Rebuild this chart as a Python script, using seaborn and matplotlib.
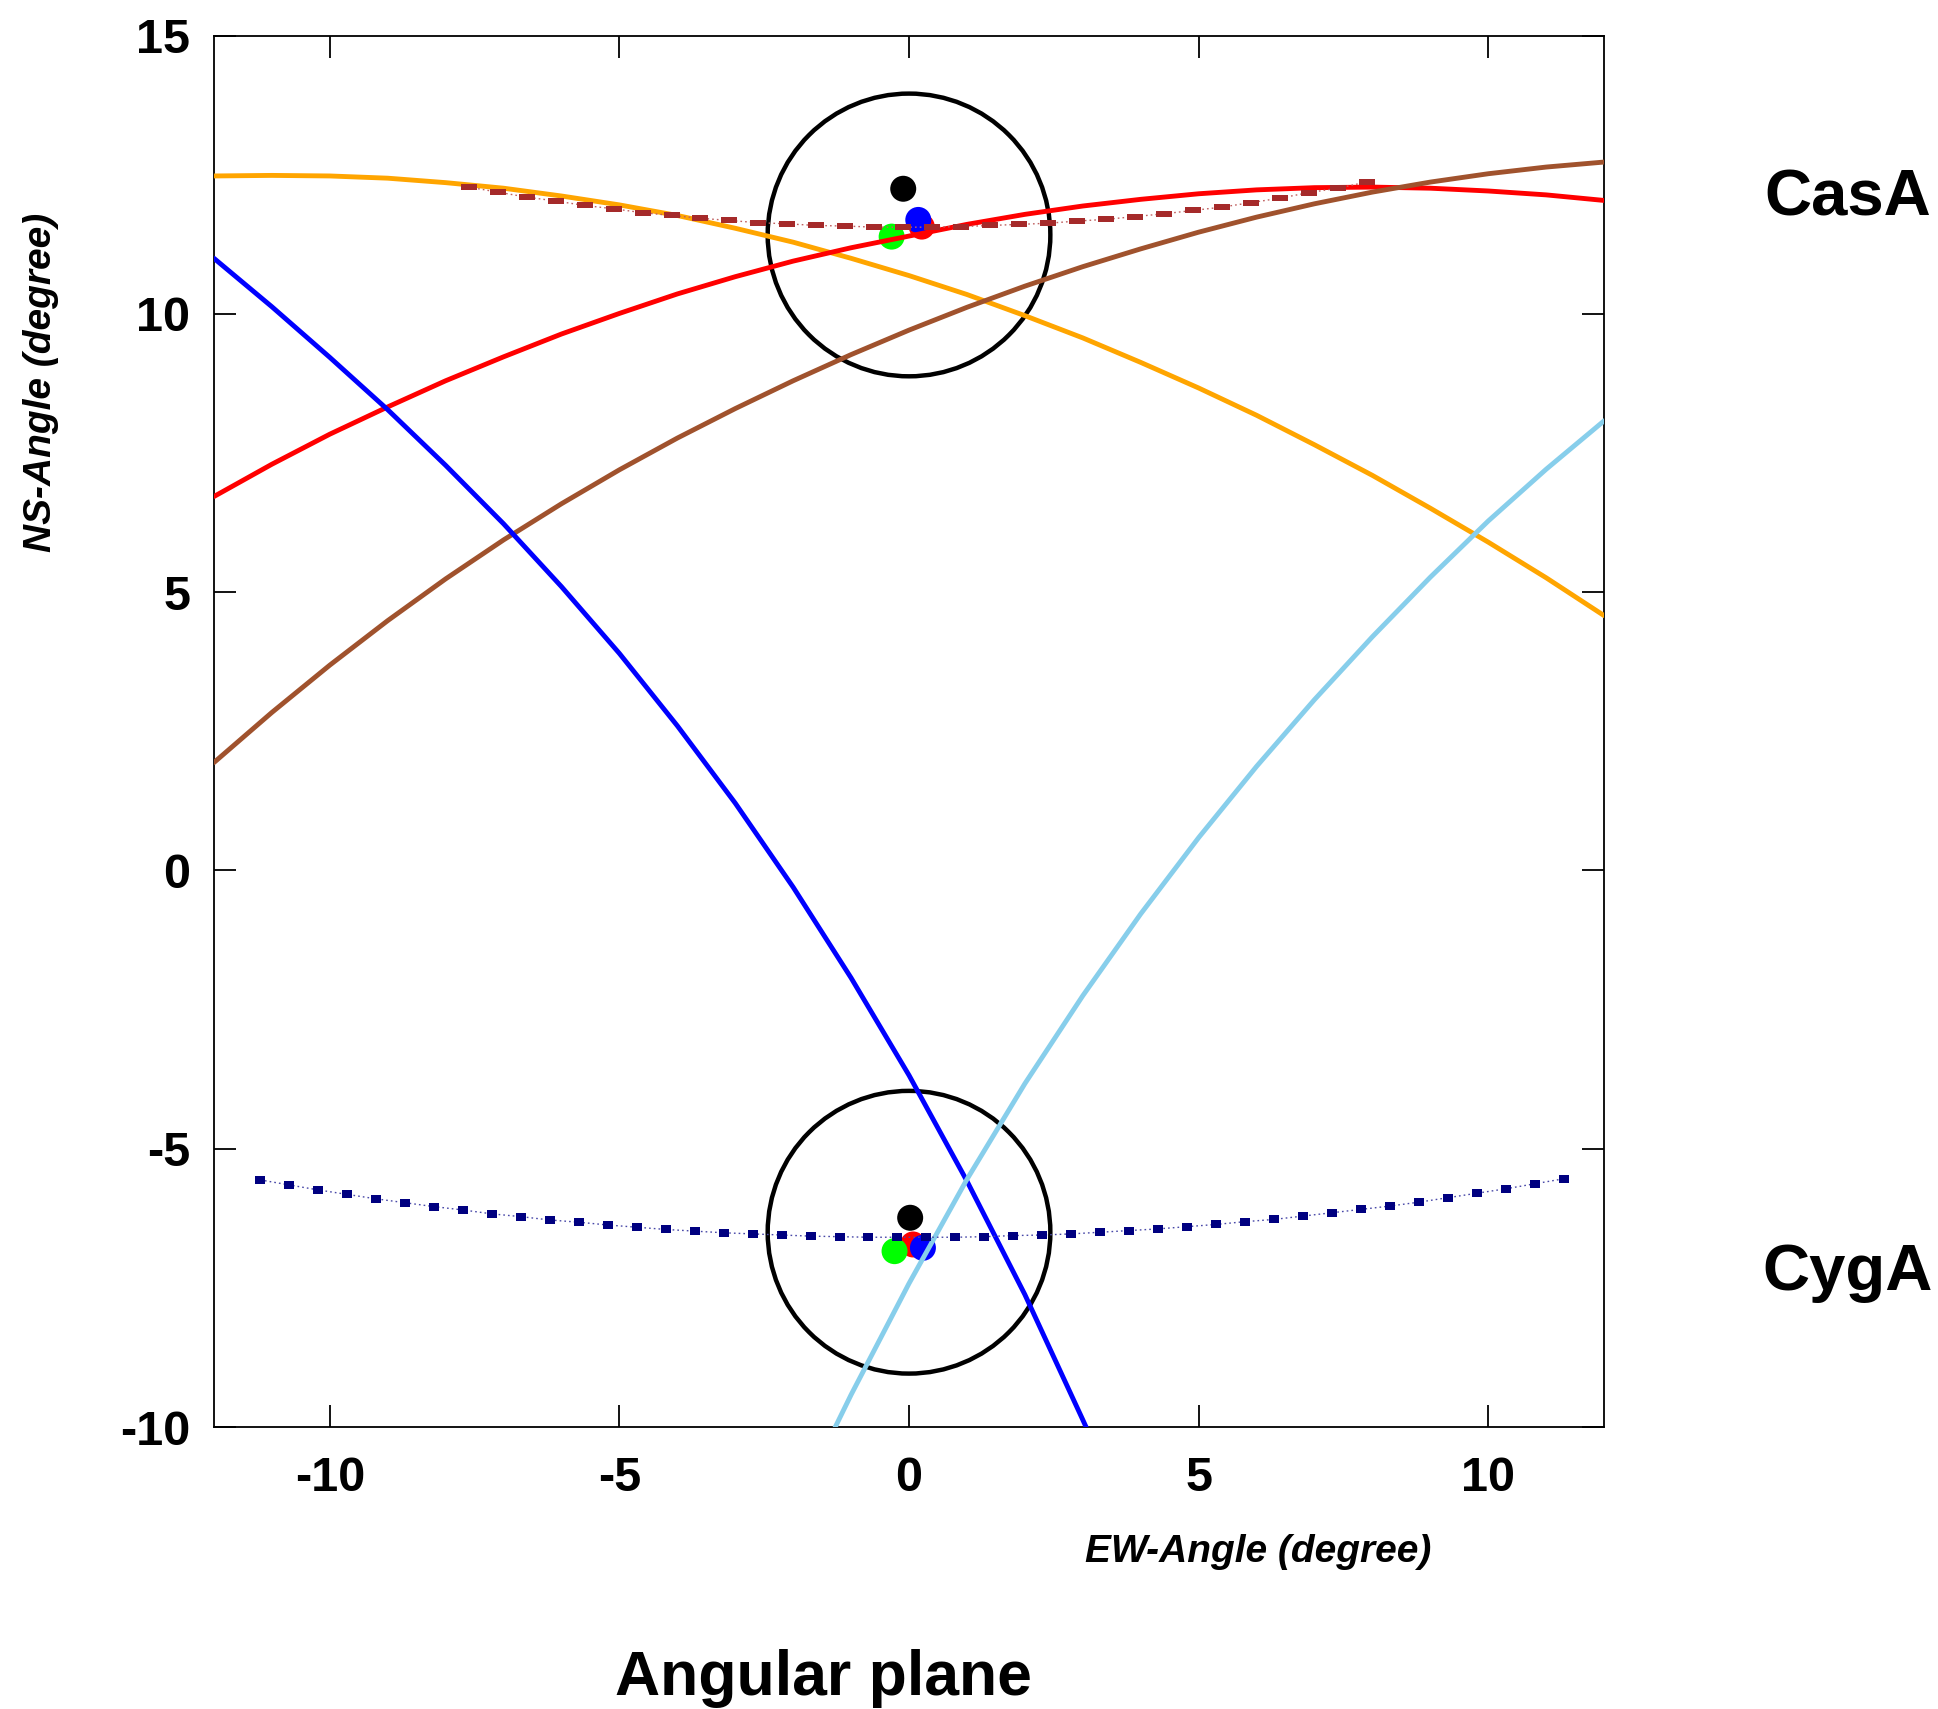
import matplotlib
matplotlib.use("Agg")
import matplotlib.pyplot as plt
from matplotlib.patches import Ellipse
import seaborn as sns

# ---- fitted source tracks in the angular plane (EW, NS in degrees) ----
ew_grid = [-12, -11, -10, -9, -8, -7, -6, -5, -4, -3, -2, -1, 0,
           1, 2, 3, 4, 5, 6, 7, 8, 9, 10, 11, 12]
orange_ns = [12.48, 12.49, 12.48, 12.44, 12.36, 12.26, 12.12, 11.96, 11.77, 11.54, 11.29, 11.00,
             10.69, 10.35, 9.97, 9.57, 9.13, 8.67, 8.18, 7.65, 7.10, 6.51, 5.90, 5.26, 4.58]
red_ns = [6.72, 7.30, 7.84, 8.33, 8.80, 9.23, 9.64, 10.01, 10.36, 10.67, 10.95, 11.19,
          11.40, 11.61, 11.79, 11.94, 12.06, 12.16, 12.23, 12.27, 12.28, 12.26, 12.21, 12.14, 12.04]
sienna_ns = [1.94, 2.84, 3.69, 4.49, 5.24, 5.94, 6.59, 7.20, 7.77, 8.30, 8.80, 9.27,
             9.71, 10.12, 10.50, 10.85, 11.17, 11.47, 11.74, 11.98, 12.19, 12.37, 12.52, 12.64, 12.73]

blue_ew = [-12, -11, -10, -9, -8, -7, -6, -5, -4, -3, -2, -1, 0, 1, 2, 3, 3.2]
blue_ns = [11.00, 10.13, 9.22, 8.28, 7.28, 6.23, 5.10, 3.90, 2.60, 1.21, -0.30, -1.93,
           -3.68, -5.58, -7.62, -9.87, -10.33]

skyblue_ew = [-1.4, -1, 0, 1, 2, 3, 4, 5, 6, 7, 8, 9, 10, 11, 12]
skyblue_ns = [-10.27, -9.42, -7.42, -5.55, -3.83, -2.25, -0.78, 0.59, 1.87, 3.07, 4.20,
              5.27, 6.28, 7.21, 8.08]

# ---- sampled tracks (point series) ----
casa_track_ew = [-7.6, -7.1, -6.6, -6.1, -5.6, -5.1, -4.6, -4.1, -3.6, -3.1, -2.6, -2.1,
                 -1.6, -1.1, -0.6, -0.1, 0.4, 0.9, 1.4, 1.9, 2.4, 2.9, 3.4, 3.9, 4.4, 4.9,
                 5.4, 5.9, 6.4, 6.9, 7.4, 7.9]
casa_track_ns = [12.28, 12.19, 12.10, 12.03, 11.95, 11.89, 11.82, 11.77, 11.72, 11.68, 11.64,
                 11.62, 11.59, 11.58, 11.56, 11.56, 11.56, 11.57, 11.59, 11.61, 11.63, 11.67,
                 11.70, 11.75, 11.80, 11.86, 11.92, 12.00, 12.08, 12.18, 12.26, 12.37]

cyga_track_ew = [-11.2, -10.7, -10.2, -9.7, -9.2, -8.7, -8.2, -7.7, -7.2, -6.7, -6.2, -5.7,
                 -5.2, -4.7, -4.2, -3.7, -3.2, -2.7, -2.2, -1.7, -1.2, -0.7, -0.2, 0.3, 0.8,
                 1.3, 1.8, 2.3, 2.8, 3.3, 3.8, 4.3, 4.8, 5.3, 5.8, 6.3, 6.8, 7.3, 7.8, 8.3,
                 8.8, 9.3, 9.8, 10.3, 10.8, 11.3]
cyga_track_ns = [-5.56, -5.65, -5.74, -5.82, -5.90, -5.97, -6.04, -6.10, -6.17, -6.22, -6.28,
                 -6.32, -6.37, -6.41, -6.45, -6.48, -6.51, -6.53, -6.55, -6.57, -6.58, -6.59,
                 -6.59, -6.59, -6.59, -6.58, -6.56, -6.55, -6.53, -6.50, -6.47, -6.44, -6.40,
                 -6.36, -6.31, -6.27, -6.21, -6.15, -6.09, -6.03, -5.96, -5.88, -5.80, -5.72,
                 -5.63, -5.54]

# ---- source positions and search circles ----
source_names = ["CasA", "CygA"]
source_ew = [0.0, 0.0]
source_ns = [11.42, -6.50]
circle_ew_diam = 4.88
circle_ns_diam = 5.08

dot_colors = ["red", "blue", "lime", "black"]
casa_dot_ew = [0.22, 0.16, -0.30, -0.10]
casa_dot_ns = [11.57, 11.69, 11.39, 12.25]
cyga_dot_ew = [0.07, 0.24, -0.25, 0.02]
cyga_dot_ns = [-6.72, -6.78, -6.84, -6.24]

x_ticks = [-10, -5, 0, 5, 10]
y_ticks = [-10, -5, 0, 5, 10, 15]

# ---- figure ----
sns.set_theme(style="ticks")
plt.rcParams["font.family"] = ["Liberation Sans", "DejaVu Sans"]
plt.rcParams["axes.unicode_minus"] = False
plt.rcParams["text.color"] = "black"
plt.rcParams["axes.labelcolor"] = "black"
plt.rcParams["xtick.color"] = "black"
plt.rcParams["ytick.color"] = "black"

fig = plt.figure(figsize=(19.38, 17.09), dpi=100)
ax = fig.add_axes([0.1104, 0.1650, 0.7173, 0.8141])

# detection dots
for dots_ew, dots_ns in [(casa_dot_ew, casa_dot_ns), (cyga_dot_ew, cyga_dot_ns)]:
    sns.scatterplot(x=dots_ew, y=dots_ns, hue=dot_colors, palette=dict(zip(dot_colors, dot_colors)),
                    s=350, linewidth=0, legend=False, ax=ax, zorder=2)

# search circles
for cx, cy in zip(source_ew, source_ns):
    ax.add_patch(Ellipse((cx, cy), circle_ew_diam, circle_ns_diam, fill=False,
                         edgecolor="black", lw=3.2, zorder=2.5))

# continuous tracks
curve_lw = 3.5
sns.lineplot(x=ew_grid, y=orange_ns, color="orange", lw=curve_lw, sort=False, ax=ax, zorder=3)
sns.lineplot(x=ew_grid, y=red_ns, color="red", lw=curve_lw, sort=False, ax=ax, zorder=3)
sns.lineplot(x=ew_grid, y=sienna_ns, color="sienna", lw=curve_lw, sort=False, ax=ax, zorder=3)
sns.lineplot(x=blue_ew, y=blue_ns, color="blue", lw=curve_lw, sort=False, ax=ax, zorder=3)
sns.lineplot(x=skyblue_ew, y=skyblue_ns, color="skyblue", lw=curve_lw, sort=False, ax=ax, zorder=3)

# sampled tracks: thin dotted connector plus small rectangular markers
dash_rect = [(-1.5, -0.5), (1.5, -0.5), (1.5, 0.5), (-1.5, 0.5), (-1.5, -0.5)]
small_rect = [(-0.7, -0.5), (0.7, -0.5), (0.7, 0.5), (-0.7, 0.5), (-0.7, -0.5)]

sns.lineplot(x=casa_track_ew, y=casa_track_ns, color="#c06060", lw=1.0, linestyle=(0, (1.2, 2.2)),
             sort=False, ax=ax, zorder=3.2)
sns.scatterplot(x=casa_track_ew, y=casa_track_ns, color="brown", marker=dash_rect, s=140,
                linewidth=0, legend=False, ax=ax, zorder=3.3)

sns.lineplot(x=cyga_track_ew, y=cyga_track_ns, color="#4848a8", lw=1.0, linestyle=(0, (1.2, 2.2)),
             sort=False, ax=ax, zorder=3.2)
sns.scatterplot(x=cyga_track_ew, y=cyga_track_ns, color="navy", marker=small_rect, s=50,
                linewidth=0, legend=False, ax=ax, zorder=3.3)

# axes styling
ax.set_xlim(-12, 12)
ax.set_ylim(-10, 15)
ax.set_xticks(x_ticks)
ax.set_xticklabels([str(t) for t in x_ticks], fontweight="bold")
ax.set_yticks(y_ticks)
ax.set_yticklabels([str(t) for t in y_ticks], fontweight="bold")
ax.tick_params(direction="in", length=16, width=1.3, top=True, right=True,
               labelsize=35, colors="black")
ax.tick_params(axis="x", pad=21)
ax.tick_params(axis="y", pad=17)
ax.set_xlabel("")
ax.set_ylabel("")
for sp in ax.spines.values():
    sp.set_visible(True)
    sp.set_linewidth(1.3)
    sp.set_color("black")
ax.set_facecolor("white")
fig.patch.set_facecolor("white")

W, H = 1938, 1709
fig.text(1258 / W, 1 - 1552 / H, "EW-Angle (degree)", fontsize=28, fontweight="bold",
         fontstyle="italic", ha="center", va="center", color="black")
fig.text(41 / W, 1 - 382 / H, "NS-Angle (degree)", fontsize=28, fontweight="bold",
         fontstyle="italic", ha="center", va="center", rotation=90, color="black")

fig.text(1848 / W, 1 - 216 / H, source_names[0], fontsize=47, fontweight="bold",
         ha="center", va="baseline", color="black")
fig.text(1848 / W, 1 - 1290 / H, source_names[1], fontsize=47, fontweight="bold",
         ha="center", va="baseline", color="black")
fig.text(823 / W, 1 - 1695 / H, "Angular plane", fontsize=45, fontweight="bold",
         ha="center", va="baseline", color="black")

fig.savefig("out.png", dpi=100, facecolor="white")
